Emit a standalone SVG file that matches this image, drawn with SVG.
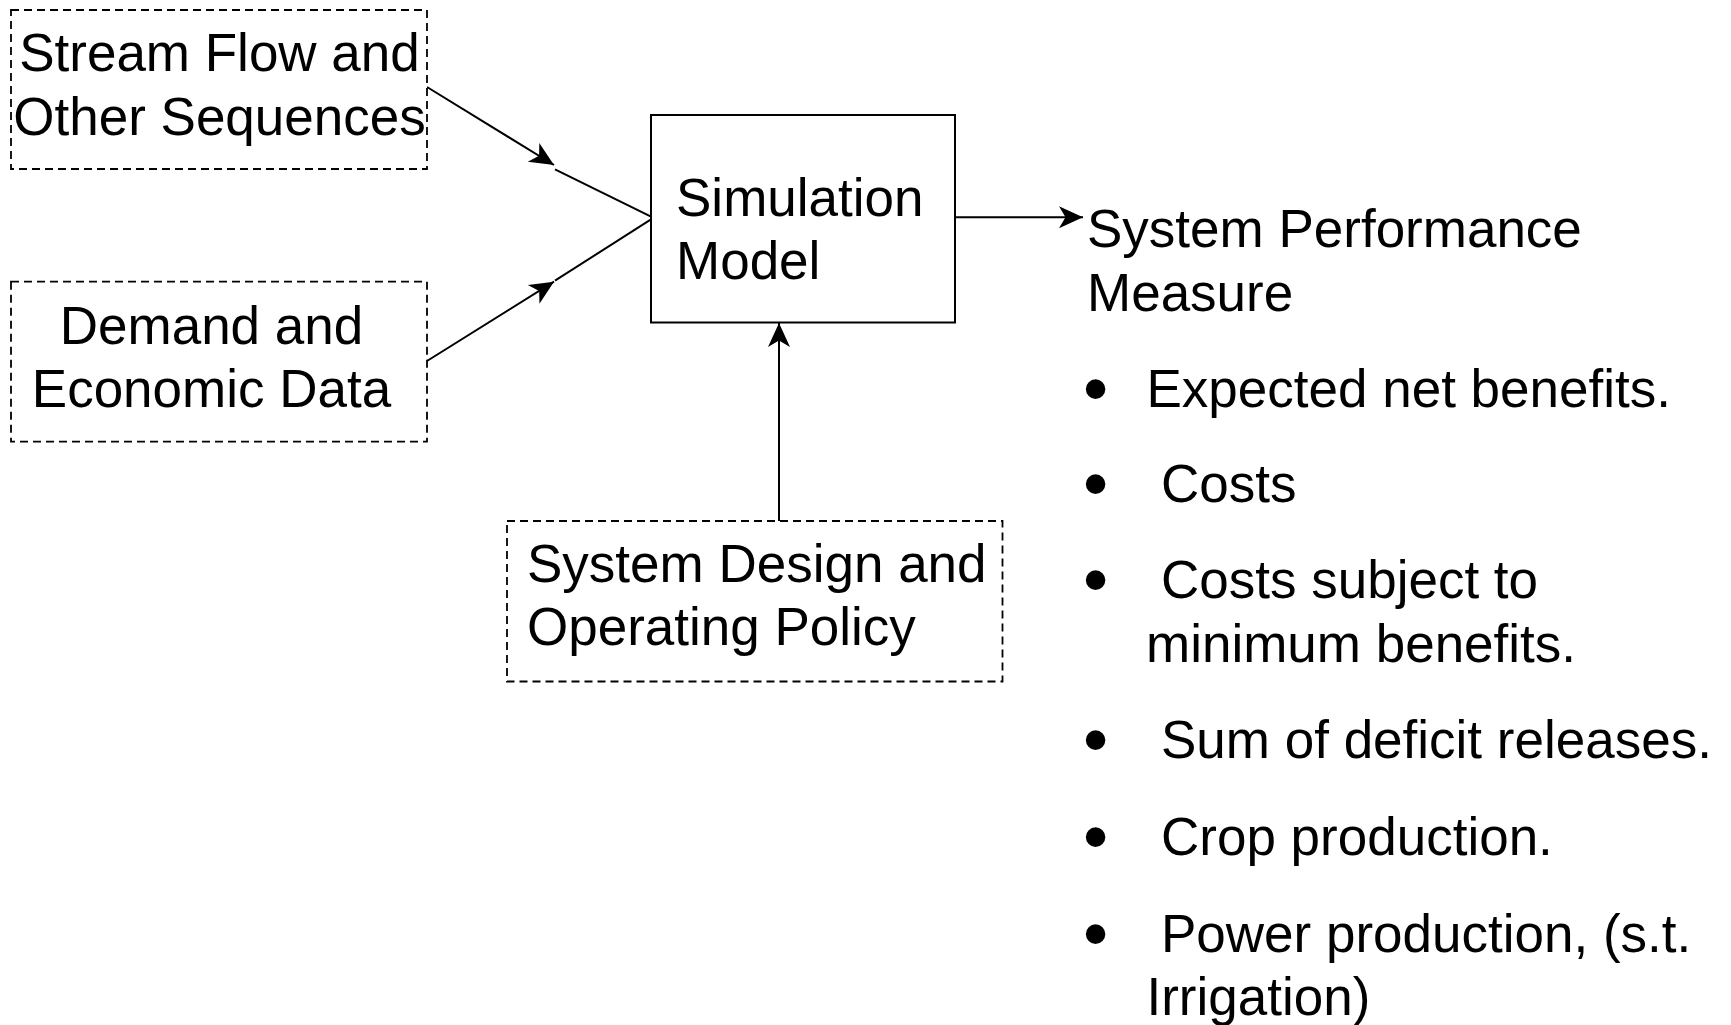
<svg xmlns="http://www.w3.org/2000/svg" width="1731" height="1025" viewBox="0 0 1731 1025">
  <style>
    .lbl { font-family: "Liberation Sans", Arial, sans-serif; font-size: 53px; fill: #000; }
    .mid { text-anchor: middle; }
    .bul { font-family: "Liberation Sans", Arial, sans-serif; font-size: 72px; fill: #000; text-anchor: middle; }
    .box { fill: #fff; stroke: #000; stroke-width: 2; }
    .dash { fill: #fff; stroke: #000; stroke-width: 1.8; stroke-dasharray: 8 5; }
    .edge { fill: none; stroke: #000; stroke-width: 2; }
  </style>
  <defs>
    <marker id="arrow" viewBox="-25 -12 27 24" refX="0" refY="0" markerWidth="27" markerHeight="24" markerUnits="userSpaceOnUse" orient="auto">
      <path d="M0,0 L-24,-11 L-17.5,0 L-24,11 Z" fill="#000"/>
    </marker>
  </defs>
  <rect width="1731" height="1025" fill="#fff"/>

  <g id="connectors">
    <line class="edge" x1="427" y1="87" x2="554" y2="165" marker-end="url(#arrow)"/>
    <line class="edge" x1="555" y1="169.3" x2="651" y2="216.7"/>
    <line class="edge" x1="427" y1="361" x2="554" y2="281.7" marker-end="url(#arrow)"/>
    <line class="edge" x1="555" y1="280.7" x2="651" y2="219.3"/>
    <line class="edge" x1="779" y1="521" x2="779" y2="323" marker-end="url(#arrow)"/>
    <line class="edge" x1="955" y1="217.3" x2="1083" y2="217.3" marker-end="url(#arrow)"/>
  </g>

  <g id="stream-flow">
    <rect class="dash" x="11" y="10" width="416" height="159"/>
    <text class="lbl mid" x="219.5" y="71">Stream Flow and</text>
    <text class="lbl mid" x="219.5" y="135">Other Sequences</text>
  </g>

  <g id="demand-data">
    <rect class="dash" x="11" y="281.7" width="416" height="160"/>
    <text class="lbl mid" x="211.5" y="343.5">Demand and</text>
    <text class="lbl mid" x="211.5" y="407">Economic Data</text>
  </g>

  <g id="simulation-model">
    <rect class="box" x="651" y="115" width="304" height="207.5"/>
    <text class="lbl" x="676" y="216">Simulation</text>
    <text class="lbl" x="676" y="279">Model</text>
  </g>

  <g id="design-policy">
    <rect class="dash" x="507" y="521" width="495.5" height="160.5"/>
    <text class="lbl" x="527" y="582">System Design and</text>
    <text class="lbl" x="527" y="645">Operating Policy</text>
  </g>

  <g id="performance-measure">
    <text class="lbl" x="1087" y="246.5">System Performance</text>
    <text class="lbl" x="1087" y="310.5">Measure</text>

    <text class="bul" x="1095.7" y="412.6">•</text>
    <text class="lbl" x="1146.5" y="406.7">Expected net benefits.</text>

    <text class="bul" x="1095.7" y="507.6">•</text>
    <text class="lbl" x="1161" y="501.7">Costs</text>

    <text class="bul" x="1095.7" y="604.2">•</text>
    <text class="lbl" x="1161" y="598.3">Costs subject to</text>
    <text class="lbl" x="1146" y="661.7">minimum benefits.</text>

    <text class="bul" x="1095.7" y="764.2">•</text>
    <text class="lbl" x="1161" y="758.3">Sum of deficit releases.</text>

    <text class="bul" x="1095.7" y="860.9">•</text>
    <text class="lbl" x="1161" y="855">Crop production.</text>

    <text class="bul" x="1095.7" y="957.6">•</text>
    <text class="lbl" x="1161" y="951.7">Power production, (s.t.</text>
    <text class="lbl" x="1146.5" y="1015">Irrigation)</text>
  </g>
</svg>
